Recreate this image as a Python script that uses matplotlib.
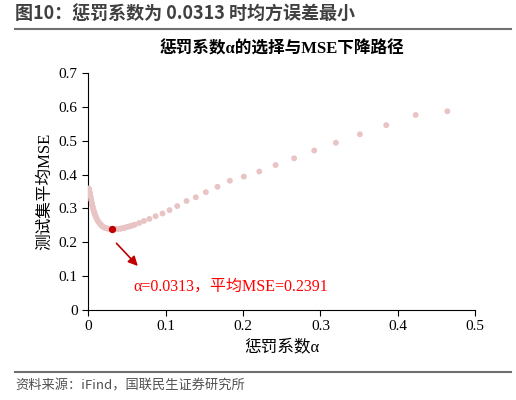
import matplotlib
matplotlib.use("Agg")
import matplotlib.pyplot as plt
from matplotlib.lines import Line2D

plt.rcParams['font.family'] = ['Liberation Serif', 'Noto Sans CJK SC', 'DejaVu Sans']

alpha = [0.464, 0.423, 0.385, 0.351, 0.320, 0.292, 0.266, 0.242, 0.221, 0.201,
         0.183, 0.167, 0.152, 0.139, 0.127, 0.115, 0.105, 0.096, 0.087, 0.079,
         0.072, 0.066, 0.060, 0.055, 0.050, 0.046, 0.042, 0.038, 0.034, 0.0313,
         0.028, 0.025, 0.022, 0.019, 0.017, 0.015, 0.013, 0.011, 0.0095, 0.008,
         0.0068, 0.0057, 0.0047, 0.0038, 0.003, 0.0023, 0.0017, 0.0012, 0.0008, 0.0005]
mse = [0.587, 0.576, 0.546, 0.519, 0.494, 0.471, 0.448, 0.428, 0.409, 0.394,
       0.382, 0.364, 0.348, 0.333, 0.322, 0.307, 0.295, 0.285, 0.277, 0.269,
       0.263, 0.257, 0.252, 0.248, 0.245, 0.242, 0.2405, 0.2395, 0.2392, 0.2391,
       0.2395, 0.2405, 0.2425, 0.246, 0.250, 0.255, 0.261, 0.269, 0.277, 0.286,
       0.295, 0.305, 0.315, 0.325, 0.334, 0.342, 0.349, 0.354, 0.357, 0.359]
best_alpha = 0.0313
best_mse = 0.2391

fig = plt.figure(figsize=(5.16, 4.0), dpi=100)
ax = fig.add_axes([0.171, 0.225, 0.75, 0.5925])

dense_a = [a for a in alpha if a <= 0.06]
dense_m = [m for a, m in zip(alpha, mse) if a <= 0.06]
ax.plot(dense_a, dense_m, color='#e8c4c4', lw=4, solid_capstyle='round', zorder=2)
ax.scatter(alpha, mse, s=18, color='#e8c4c4', edgecolors='none', zorder=3)
ax.scatter([best_alpha], [best_mse], s=18, color='#c00000', zorder=4)

ax.annotate('', xy=(0.0665, 0.124), xytext=(0.034, 0.203),
            arrowprops=dict(arrowstyle='-|>', color='#c00000', lw=1.2, mutation_scale=14))
ax.text(0.058, 0.07, 'α=0.0313，平均MSE=0.2391', color='#ff0000', fontsize=11.5, va='center')

ax.set_xlim(0, 0.5)
ax.set_ylim(0, 0.7)
ax.set_xticks([0, 0.1, 0.2, 0.3, 0.4, 0.5])
ax.set_xticklabels(['0', '0.1', '0.2', '0.3', '0.4', '0.5'])
ax.set_yticks([0, 0.1, 0.2, 0.3, 0.4, 0.5, 0.6, 0.7])
ax.set_yticklabels(['0', '0.1', '0.2', '0.3', '0.4', '0.5', '0.6', '0.7'])
ax.tick_params(labelsize=11, direction='out', length=4)
for s in ['top', 'right']:
    ax.spines[s].set_visible(False)
ax.set_xlabel('惩罚系数α', fontsize=12)
ax.set_ylabel('测试集平均MSE', fontsize=12)
ax.set_title('惩罚系数α的选择与MSE下降路径', fontsize=12, fontweight='bold', pad=14)

fig.text(0.03, 0.965, '图10：惩罚系数为 0.0313 时均方误差最小', fontsize=13, fontweight='bold',
         color='#404040', family=['Noto Sans CJK SC', 'DejaVu Sans'], va='center')
fig.add_artist(Line2D([0.03, 0.99], [0.928, 0.928], color='#707070', lw=1.5))
fig.add_artist(Line2D([0.03, 0.99], [0.07, 0.07], color='#707070', lw=1.5))
fig.text(0.03, 0.035, '资料来源：iFind，国联民生证券研究所', fontsize=9.5, color='#505050',
         family=['Noto Sans CJK SC', 'DejaVu Sans'], va='center')

fig.savefig('out.png', dpi=100)
